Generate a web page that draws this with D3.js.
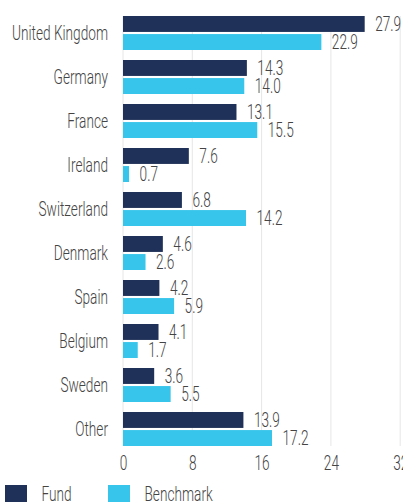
<!DOCTYPE html>
<html>
<head>
<meta charset="utf-8">
<script src="https://cdn.jsdelivr.net/npm/d3@7"></script>
<style>
  html, body { margin: 0; padding: 0; background: #fff; }
  svg { display: block; }
  text { font-family: Roboto, "Liberation Sans", sans-serif; font-weight: 300; fill: #444; }
</style>
</head>
<body>
<svg id="chart" width="403" height="502"></svg>
<script>
const categories = ["United Kingdom", "Germany", "France", "Ireland", "Switzerland", "Denmark", "Spain", "Belgium", "Sweden", "Other"];
const fundValues = [27.9, 14.3, 13.1, 7.6, 6.8, 4.6, 4.2, 4.1, 3.6, 13.9];
const benchmarkValues = [22.9, 14.0, 15.5, 0.7, 14.2, 2.6, 5.9, 1.7, 5.5, 17.2];
const seriesNames = ["Fund", "Benchmark"];
const xTicks = [0, 8, 16, 24, 32];

const colors = ["#1f3158", "#38c5eb"];
const FS = 19.5, SX = 0.7;
const svg = d3.select("#chart");

const plotLeft = 123, plotRight = 400.2, plotTop = 11, plotBottom = 451;
const x = d3.scaleLinear().domain([0, 32]).range([plotLeft, plotRight]);
const y = d3.scaleBand().domain(categories).range([plotTop, plotBottom]).paddingInner(10/44).paddingOuter(5/44);
const y1 = d3.scaleBand().domain(seriesNames).range([0, y.bandwidth()]).paddingInner(4/34);

const gTop = y(categories[0]);
const gBot = y(categories[categories.length - 1]) + y.bandwidth();

// condensed text helper
function ctext(sel, tx, ty, anchor) {
  return sel.attr("transform", (d, i) => `translate(${tx(d, i)},${ty(d, i)}) scale(${SX},1)`)
    .attr("text-anchor", anchor).attr("dominant-baseline", "central")
    .attr("font-size", FS);
}

// gridlines
svg.append("g").selectAll("line").data(xTicks).join("line")
  .attr("x1", d => x(d)).attr("x2", d => x(d))
  .attr("y1", gTop).attr("y2", gBot)
  .attr("stroke", "#e6e6e6").attr("stroke-width", 1);

// x axis
const xAxis = d3.axisBottom(x).tickValues(xTicks).tickSize(0).tickPadding(0).tickFormat(d3.format("d"));
const ax = svg.append("g").attr("transform", `translate(0,${gBot + 17})`).call(xAxis);
ax.select(".domain").remove();
ax.selectAll("text").attr("y", 0).attr("dy", null)
  .attr("transform", `scale(${SX},1)`).attr("x", 0)
  .attr("dominant-baseline", "central").attr("font-size", FS).attr("fill", "#444")
  .style("font-family", 'Roboto, "Liberation Sans", sans-serif').style("font-weight", 300);

// category labels
ctext(svg.append("g").selectAll("text").data(categories).join("text"),
  () => 108, d => y(d) + y.bandwidth() / 2, "end").text(d => d);

const data = categories.map((c, i) => ({ cat: c, vals: [fundValues[i], benchmarkValues[i]] }));

const groups = svg.append("g").selectAll("g").data(data).join("g")
  .attr("transform", d => `translate(0,${y(d.cat)})`);

const items = d => d.vals.map((v, j) => ({ v, s: seriesNames[j], j }));

groups.selectAll("rect").data(items).join("rect")
  .attr("x", x(0)).attr("y", d => y1(d.s))
  .attr("width", d => x(d.v) - x(0)).attr("height", y1.bandwidth())
  .attr("fill", d => colors[d.j]);

ctext(groups.selectAll("text.val").data(items).join("text").attr("class", "val"),
  d => x(d.v) + 10.5, d => y1(d.s) + y1.bandwidth() / 2, "start")
  .text(d => d.v.toFixed(1));

// legend
const legend = svg.append("g").selectAll("g").data(seriesNames).join("g")
  .attr("transform", (d, i) => `translate(${[5, 108][i]},485)`);
legend.append("rect").attr("width", 22).attr("height", 22).attr("fill", (d, i) => colors[i]);
ctext(legend.append("text"), () => 36.5, () => 9.5, "start").text(d => d);
</script>
</body>
</html>
